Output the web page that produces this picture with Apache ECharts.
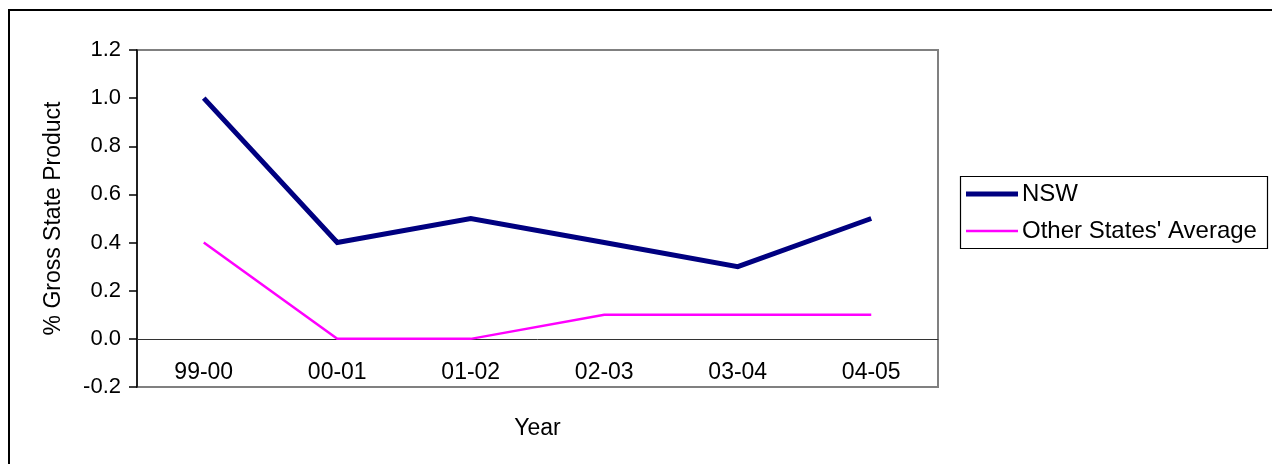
<!DOCTYPE html>
<html>
<head>
<meta charset="utf-8">
<script src="https://cdn.jsdelivr.net/npm/echarts@6/dist/echarts.min.js"></script>
<style>
  html, body { margin: 0; padding: 0; background: #ffffff; }
  #chart { width: 1272px; height: 464px; }
</style>
</head>
<body>
<div id="chart"></div>
<script>
// Financial years on the category axis
const years = ['99-00', '00-01', '01-02', '02-03', '03-04', '04-05'];
// Share of Gross State Product, per cent
const nswValues = [1.0, 0.4, 0.5, 0.4, 0.3, 0.5];
const otherStatesValues = [0.4, 0.0, 0.0, 0.1, 0.1, 0.1];
const seriesNames = ['NSW', "Other States' Average"];

const FONT = '"Liberation Sans", Arial, sans-serif';
const NAVY = '#000080';
const MAGENTA = '#FF00FF';

const chart = echarts.init(document.getElementById('chart'), null, { renderer: 'canvas' });

// one legend per series so each key line can carry its own thickness
function legendRow(name, top, thickness) {
  return {
    orient: 'vertical',
    left: 966,
    top: top,
    padding: 0,
    itemWidth: 52,
    itemHeight: thickness,
    icon: 'rect',
    textStyle: { fontFamily: FONT, fontSize: 24, color: '#000000', padding: [0, 0, 0, -1] },
    data: [name]
  };
}

chart.setOption({
  backgroundColor: '#ffffff',
  animation: false,
  textStyle: { fontFamily: FONT, color: '#000000' },
  graphic: [
    {
      // outer chart frame (runs past the right and bottom edges)
      type: 'rect',
      shape: { x: 9, y: 10, width: 1400, height: 600 },
      style: { fill: 'none', stroke: '#000000', lineWidth: 2 },
      silent: true,
      z: 0
    },
    {
      // legend box
      type: 'rect',
      shape: { x: 960.5, y: 176.5, width: 307, height: 72 },
      style: { fill: '#ffffff', stroke: '#000000', lineWidth: 1.2 },
      silent: true,
      z: 1
    }
  ],
  grid: {
    left: 137,
    top: 50,
    right: 334,
    bottom: 77,
    outerBoundsMode: 'none',
    show: true,
    borderColor: '#808080',
    borderWidth: 2,
    backgroundColor: 'transparent'
  },
  legend: [
    legendRow(seriesNames[0], 182, 5),
    legendRow(seriesNames[1], 219, 2.5)
  ],
  xAxis: {
    type: 'category',
    data: years,
    boundaryGap: true,
    name: 'Year',
    nameLocation: 'middle',
    nameGap: 30,
    nameTextStyle: { fontFamily: FONT, fontSize: 23, color: '#000000' },
    axisLine: { onZero: true, lineStyle: { color: '#333333', width: 1 } },
    axisTick: { show: false },
    axisLabel: { fontFamily: FONT, fontSize: 23, color: '#000000', margin: -26 },
    splitLine: { show: false }
  },
  yAxis: {
    type: 'value',
    min: -0.2,
    max: 1.2,
    interval: 0.2,
    name: '% Gross State Product',
    nameLocation: 'middle',
    nameGap: 72,
    nameRotate: 90,
    nameTextStyle: { fontFamily: FONT, fontSize: 23, color: '#000000' },
    axisLine: { show: true, onZero: false, lineStyle: { color: '#000000', width: 1.5 } },
    axisTick: { show: true, inside: false, length: 8, lineStyle: { color: '#000000', width: 1.5 } },
    axisLabel: {
      fontFamily: FONT,
      fontSize: 22,
      color: '#000000',
      margin: 16,
      formatter: v => v.toFixed(1)
    },
    splitLine: { show: false }
  },
  series: [
    {
      name: seriesNames[0],
      type: 'line',
      data: nswValues,
      symbol: 'none',
      lineStyle: { color: NAVY, width: 5, join: 'miter' },
      itemStyle: { color: NAVY },
      z: 3
    },
    {
      name: seriesNames[1],
      type: 'line',
      data: otherStatesValues,
      symbol: 'none',
      lineStyle: { color: MAGENTA, width: 2.5, join: 'miter' },
      itemStyle: { color: MAGENTA },
      z: 2
    }
  ]
});
</script>
</body>
</html>
